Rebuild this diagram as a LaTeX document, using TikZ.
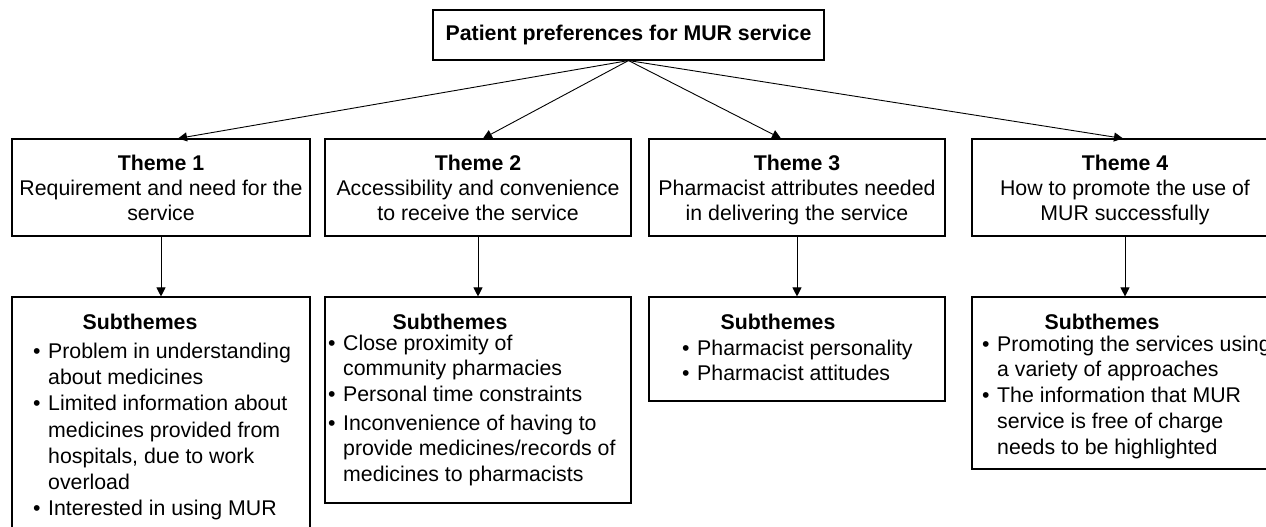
\documentclass[tikz,border=0pt]{standalone}
\usepackage{fontspec}
\setmainfont{Liberation Sans}
\usetikzlibrary{arrows.meta}
\newcommand{\bitem}{\makebox[15pt][l]{\textbullet}}
\newcommand{\bcont}{\hspace*{15pt}}
\newcommand{\fst}{\rule{0pt}{18pt}}
\begin{document}
\begin{tikzpicture}[x=1pt,y=-1pt,
  box/.style={draw, line width=1.1pt, inner sep=0pt},
  arr/.style={-{Triangle[length=9pt,width=9pt]}, line width=0.9pt},
  txt/.style={inner sep=0pt, font=\fontsize{21.3}{#1}\selectfont},
  txt/.default=25,
  head/.style={inner sep=0pt, anchor=base, font=\bfseries\fontsize{21.3}{25}\selectfont}
]
\useasboundingbox (0,0) rectangle (1266,527);
\clip (0,0) rectangle (1266,527);

% top box
\node[box, minimum width=391pt, minimum height=50pt,
      font=\bfseries\fontsize{21.3}{25}\selectfont] (top) at (628.5,35) {Patient preferences for MUR service};

% theme boxes
\node[box, minimum width=298pt, minimum height=97pt] (T1) at (161,187.5) {};
\node[box, minimum width=306pt, minimum height=97pt] (T2) at (478,187.5) {};
\node[box, minimum width=296pt, minimum height=97pt] (T3) at (797,187.5) {};
\node[box, minimum width=306pt, minimum height=97pt] (T4) at (1125,187.5) {};

\node[txt, align=center, anchor=north] (T1t) at (161,152) {\fst\textbf{Theme 1}\\Requirement and need for the\\service};
\node[txt, align=center, anchor=north] (T2t) at (478,152) {\fst\textbf{Theme 2}\\Accessibility and convenience\\to receive the service};
\node[txt, align=center, anchor=north] (T3t) at (797,152) {\fst\textbf{Theme 3}\\Pharmacist attributes needed\\in delivering the service};
\node[txt, align=center, anchor=north] (T4t) at (1125,152) {\fst\textbf{Theme 4}\\How to promote the use of\\MUR successfully};

% subtheme boxes
\node[box, minimum width=298pt, minimum height=243pt] (S1) at (161,418.5) {};
\node[box, minimum width=306pt, minimum height=206pt] (S2) at (478,400) {};
\node[box, minimum width=296pt, minimum height=104pt] (S3) at (797,349) {};
\node[box, minimum width=306pt, minimum height=172pt] (S4) at (1125,383) {};

\node[head] (S1h) at (140,329.5) {Subthemes};
\node[head] (S2h) at (450,329.5) {Subthemes};
\node[head] (S3h) at (778,329.5) {Subthemes};
\node[head] (S4h) at (1102,329.5) {Subthemes};

\node[txt=26.1, align=left, anchor=north west] (S1t) at (33,340.5)
  {\fst\bitem Problem in understanding\\
   \bcont about medicines\\
   \bitem Limited information about\\
   \bcont medicines provided from\\
   \bcont hospitals, due to work\\
   \bcont overload\\
   \bitem Interested in using MUR};
\node[txt=25.5, align=left, anchor=north west] (S2t) at (328,332)
  {\fst\bitem Close proximity of\\
   \bcont community pharmacies\\
   \bitem Personal time constraints\\[3.5pt]
   \bitem Inconvenience of having to\\
   \bcont provide medicines/records of\\
   \bcont medicines to pharmacists};
\node[txt=25.5, align=left, anchor=north west] (S3t) at (682,337)
  {\fst\bitem Pharmacist personality\\
   \bitem Pharmacist attitudes};
\node[txt=25.75, align=left, anchor=north west] (S4t) at (982,333)
  {\fst\bitem Promoting the services using\\
   \bcont a variety of approaches\\
   \bitem The information that MUR\\
   \bcont service is free of charge\\
   \bcont needs to be highlighted};

% connectors
\draw[arr] (top.south) -- ([xshift=17pt]T1.north);
\draw[arr] (top.south) -- ([xshift=5pt]T2.north);
\draw[arr] (top.south) -- ([xshift=-16pt]T3.north);
\draw[arr] (top.south) -- ([xshift=-2pt]T4.north);
\draw[arr] (T1.south) -- (S1.north);
\draw[arr] (T2.south) -- (S2.north);
\draw[arr] (T3.south) -- (S3.north);
\draw[arr] (T4.south) -- (S4.north);
\end{tikzpicture}
\end{document}
